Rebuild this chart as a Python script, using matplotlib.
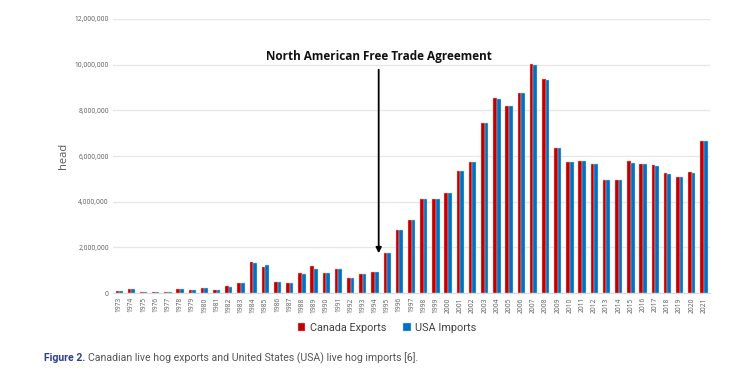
import matplotlib
matplotlib.use("Agg")
import matplotlib.pyplot as plt
import numpy as np

years = [str(y) for y in range(1973, 2022)]
canada_exports = [0.09, 0.19, 0.03, 0.04, 0.04, 0.19, 0.12, 0.23, 0.13, 0.29,
                  0.45, 1.34, 1.15, 0.50, 0.44, 0.86, 1.20, 0.89, 1.07, 0.66,
                  0.83, 0.92, 1.75, 2.78, 3.20, 4.13, 4.13, 4.37, 5.33, 5.73,
                  7.44, 8.52, 8.21, 8.77, 10.04, 9.37, 6.36, 5.74, 5.79, 5.66,
                  4.97, 4.96, 5.77, 5.66, 5.61, 5.25, 5.08, 5.29, 6.67]
usa_imports = [0.09, 0.19, 0.03, 0.04, 0.04, 0.19, 0.15, 0.23, 0.13, 0.28,
               0.44, 1.32, 1.23, 0.50, 0.45, 0.83, 1.07, 0.89, 1.06, 0.66,
               0.83, 0.92, 1.75, 2.78, 3.20, 4.13, 4.13, 4.37, 5.33, 5.73,
               7.44, 8.50, 8.20, 8.77, 10.00, 9.34, 6.33, 5.74, 5.78, 5.63,
               4.95, 4.95, 5.71, 5.65, 5.58, 5.22, 5.07, 5.27, 6.64]
canada_exports = [v * 1e6 for v in canada_exports]
usa_imports = [v * 1e6 for v in usa_imports]
yticks = [0, 2e6, 4e6, 6e6, 8e6, 10e6, 12e6]

RED = "#C00000"
BLUE = "#0070C0"

fig = plt.figure(figsize=(7.49, 3.71), dpi=100)
ax = fig.add_axes([0.151, 0.2102, 0.797, 0.7386])

x = np.arange(len(years))
w = 0.3
ax.bar(x - w / 2, canada_exports, width=w, color=RED, edgecolor="#f2b8b8", linewidth=0.3, label="Canada Exports", zorder=3)
ax.bar(x + w / 2, usa_imports, width=w, color=BLUE, edgecolor="#b8d4ee", linewidth=0.3, label="USA Imports", zorder=3)

ax.set_xlim(-0.5, len(years) - 0.5)
ax.set_ylim(0, 12e6)
ax.set_yticks(yticks)
ax.set_yticklabels([f"{int(v):,}" for v in yticks], fontsize=4.8, color="#595959", family="Open Sans")
ax.set_xticks(x)
ax.set_xticklabels(years, rotation=90, fontsize=4.8, color="#595959", family="Open Sans")
ax.tick_params(axis="both", length=0, pad=3)
ax.grid(axis="y", color="#e6e6e6", linewidth=0.9, zorder=0)
for s in ["top", "right", "left"]:
    ax.spines[s].set_visible(False)
ax.spines["bottom"].set_color("#d9d9d9")
ax.spines["bottom"].set_linewidth(0.8)

ax.set_ylabel("head", fontsize=8, color="#595959", family="Open Sans", labelpad=4)

ax.annotate("", xy=(21.3, 1.62e6), xytext=(21.3, 9.9e6),
            arrowprops=dict(arrowstyle="-|>", color="black", lw=1.3, mutation_scale=8), zorder=5)
ax.text(21.3, 10.35e6, "North American Free Trade Agreement", ha="center", va="center",
        fontsize=8.5, fontweight="bold", family="Open Sans", color="#111111")

leg = fig.legend(loc="center", bbox_to_anchor=(0.517, 0.116), ncol=2, frameon=False,
                 handlelength=0.7, handleheight=0.7, handletextpad=0.4,
                 columnspacing=1.6, prop={"family": "Roboto", "size": 7.8})
for t in leg.get_texts():
    t.set_color("#404040")

t1 = fig.text(44 / 749, 1 - 358 / 371, "Figure 2.", fontsize=7.6, fontweight="bold",
              color="#2E3F8F", family="Roboto", va="center")
fig.canvas.draw()
bb = t1.get_window_extent(renderer=fig.canvas.get_renderer())
fig.text(bb.x1 / fig.bbox.width + 0.004, 1 - 358 / 371,
         "Canadian live hog exports and United States (USA) live hog imports [6].",
         fontsize=7.6, color="#555555", family="Roboto", va="center")

fig.savefig("out.png", dpi=100)
